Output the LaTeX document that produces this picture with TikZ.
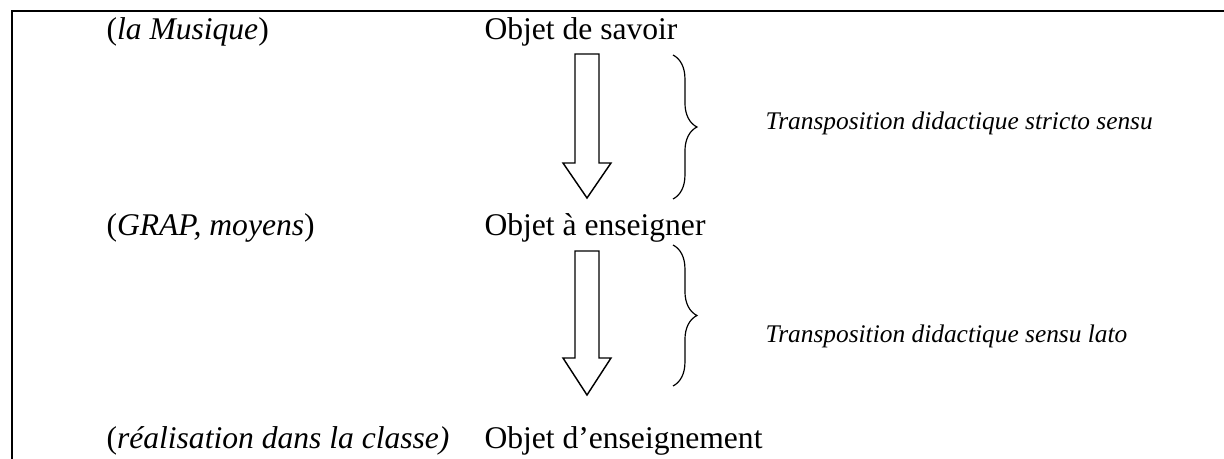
\documentclass[tikz,border=0pt]{standalone}
\usepackage{fontspec}
\setmainfont{Liberation Serif}
\usetikzlibrary{decorations.pathreplacing}
\begin{document}
\begin{tikzpicture}[x=0.38pt,y=-0.38pt,
  frame/.style={line width=0.76pt, line join=miter},
  txt/.style={anchor=base west, inner sep=0pt, font=\fontsize{12}{14}\selectfont},
  lbl/.style={anchor=base west, inner sep=0pt, font=\fontsize{9.65}{11.5}\selectfont\itshape},
  blockarrow/.style={draw, line width=0.55pt, line join=miter, fill=white},
  bracket/.style={decorate, decoration={brace, amplitude=9.1pt}, line width=0.45pt}]
\useasboundingbox (0,0) rectangle (1224,459);
% open frame: left and top rules
\draw[frame] (11.5,459) -- (11.5,11) -- (1224,11);

% the three objects
\node[txt] (savoir) at (484,40) {Objet de savoir};
\node[txt] (aens) at (484,235) {Objet à enseigner};
\node[txt] (ens) at (484,448) {Objet d’enseignement};

% left column
\node[txt] (musique) at (106,40) {(\textit{la Musique})};
\node[txt] (grap) at (106,235) {(\textit{GRAP, moyens})};
\node[txt] (classe) at (106,448) {(\textit{réalisation dans la classe)}};

% right labels
\node[lbl] (stricto) at (765,130) {Transposition didactique stricto sensu};
\node[lbl] (lato) at (765,342) {Transposition didactique sensu lato};

% block arrows between the objects
\coordinate (a1s) at (savoir.base -| 587,0) ;
\coordinate (a1s) at (587,54);
\coordinate (a1t) at (587,198);
\coordinate (a2s) at (587,251);
\coordinate (a2t) at (587,395);
\draw[blockarrow] (a1s) ++(-12,0) -- ++(0,109) -- ++(-12,0) -- (a1t)
  -- ++(24,-35) -- ++(-12,0) -- ++(0,-109) -- cycle;
\draw[blockarrow] (a2s) ++(-12,0) -- ++(0,107) -- ++(-12,0) -- (a2t)
  -- ++(24,-37) -- ++(-12,0) -- ++(0,-107) -- cycle;

% braces
\coordinate (b1t) at (673,55);
\coordinate (b1b) at (673,199);
\coordinate (b2t) at (673,245);
\coordinate (b2b) at (673,386);
\draw[bracket] (b1t) -- (b1b);
\draw[bracket] (b2t) -- (b2b);
\end{tikzpicture}
\end{document}
